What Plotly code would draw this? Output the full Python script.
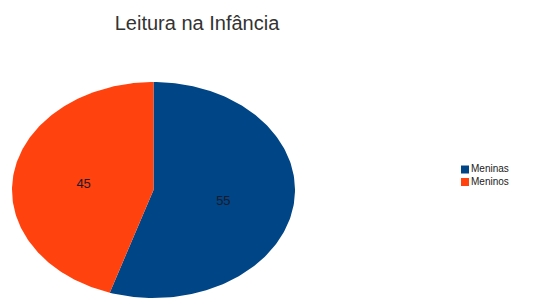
import numpy as np
import plotly.graph_objects as go

title = "Leitura na Infância"
labels = ["Meninas", "Meninos"]
values = [55, 45]
colors = ["#004586", "#ff420e"]

W, H = 533, 300
OFF = 8  # page body margin


def fx(px):
    return (px - OFF) / W


def fy(py):
    return 1 - (py - OFF) / H


fig = go.Figure()

total = sum(values)
start = 0.0
for lab, val, col in zip(labels, values, colors):
    frac = val / total
    th = np.linspace(start, start + frac, 160) * 2 * np.pi
    xs = np.concatenate([[0], np.sin(th), [0]])
    ys = np.concatenate([[0], np.cos(th), [0]])
    fig.add_trace(go.Scatter(x=xs, y=ys, mode="lines", fill="toself",
                             fillcolor=col, line=dict(width=0, color=col),
                             name=lab, showlegend=False, hoverinfo="skip"))
    mid = (start + frac / 2) * 2 * np.pi
    fig.add_trace(go.Scatter(x=[0.5 * np.sin(mid)], y=[0.5 * np.cos(mid) - 0.03],
                             mode="text", text=[str(val)],
                             textfont=dict(size=13, color="#1a1a2a",
                                           family="Liberation Sans, Arial"),
                             showlegend=False, hoverinfo="skip"))
    start += frac

# legend: square keys with labels on a small helper axis
fig.add_trace(go.Scatter(
    x=[0] * len(labels), y=list(range(len(labels))),
    xaxis="x2", yaxis="y2", mode="markers+text",
    marker=dict(symbol="square", size=8, color=colors),
    text=labels, textposition="middle right",
    textfont=dict(size=10, color="#222222", family="Liberation Sans, Arial"),
    showlegend=False, hoverinfo="skip", cliponaxis=False,
))

fig.update_xaxes(range=[-1, 1], domain=[fx(12), fx(295)], visible=False)
fig.update_yaxes(range=[-1, 1], domain=[fy(298), fy(82)], visible=False)

fig.update_layout(
    width=W, height=H,
    margin=dict(l=0, r=0, t=0, b=0),
    paper_bgcolor="white", plot_bgcolor="white",
    showlegend=False,
    xaxis2=dict(range=[-1, 1], domain=[fx(460), fx(470)], visible=False,
                anchor="y2", fixedrange=True),
    yaxis2=dict(range=[1.5, -0.5], domain=[fy(188.25), fy(163.25)],
                visible=False, anchor="x2", fixedrange=True),
    title=dict(text=title, x=fx(197), xanchor="center", y=fy(22.5),
               yanchor="middle",
               font=dict(size=20, color="#333333", family="Liberation Sans, Arial")),
)

fig.write_html("out.html")
